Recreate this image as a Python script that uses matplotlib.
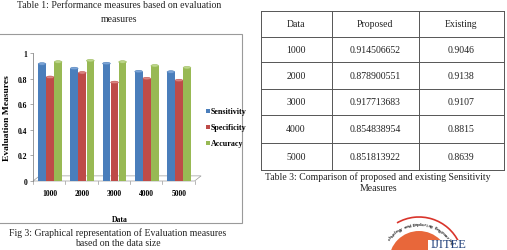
import matplotlib
matplotlib.use("Agg")
import matplotlib.pyplot as plt
from matplotlib.patches import Rectangle, Ellipse, Polygon, Circle, Arc
import numpy as np

# -------------------- Data --------------------
data_sizes = ["1000", "2000", "3000", "4000", "5000"]
sensitivity = [0.9145, 0.8789, 0.9177, 0.8548, 0.8518]
specificity = [0.81, 0.845, 0.77, 0.80, 0.785]
accuracy = [0.93, 0.94, 0.93, 0.90, 0.885]
series_names = ["Sensitivity", "Specificity", "Accuracy"]

table_header = ["Data", "Proposed", "Existing"]
table_proposed = ["0.914506652", "0.878900551", "0.917713683", "0.854838954", "0.851813922"]
table_existing = ["0.9046", "0.9138", "0.9107", "0.8815", "0.8639"]

colors = ["#4a7ebb", "#be4b48", "#98b954"]
tops = ["#7aa3d6", "#d98480", "#bcd68a"]

W, H = 507, 251
fig = plt.figure(figsize=(W / 100, H / 100), dpi=100)
fig.patch.set_facecolor("white")

serif = "Liberation Serif"

def fx(px):
    return px / W

def fy(py):
    return 1 - py / H

# -------------------- Left captions --------------------
fig.text(fx(119), fy(6), "Table 1: Performance measures based on evaluation",
         ha="center", va="center", fontsize=7, family=serif, color="#222222")
fig.text(fx(119), fy(19), "measures", ha="center", va="center",
         fontsize=7, family=serif, color="#222222")
fig.text(fx(118), fy(233), "Fig 3: Graphical representation of Evaluation measures",
         ha="center", va="center", fontsize=7, family=serif, color="#222222")
fig.text(fx(118), fy(244), "based on the data size", ha="center", va="center",
         fontsize=7, family=serif, color="#222222")

# chart frame
frame = Rectangle((fx(-2), fy(224)), fx(244), fy(35) - fy(224), transform=fig.transFigure,
                  fill=False, edgecolor="#9a9a9a", lw=0.8)
fig.add_artist(frame)

# -------------------- Bar chart --------------------
ax = fig.add_axes([fx(33), fy(182), fx(164), fy(54) - fy(182)])
x = np.arange(len(data_sizes))
bw = 0.25
for i, (vals, c, tc) in enumerate(zip([sensitivity, specificity, accuracy], colors, tops)):
    xs = x + (i - 1) * bw
    ax.bar(xs, vals, width=bw * 0.95, color=c, edgecolor="none", zorder=3,
           label=series_names[i])
    for xv, v in zip(xs, vals):
        ax.add_patch(Ellipse((xv, v), bw * 0.95, 0.02, facecolor=tc,
                             edgecolor=c, lw=0.4, zorder=4))

ax.set_xlim(-0.53, 4.56)
ax.set_ylim(0, 1)
ax.set_yticks([0, 0.2, 0.4, 0.6, 0.8, 1])
ax.set_yticklabels(["0", "0.2", "0.4", "0.6", "0.8", "1"])
ax.set_xticks(x)
ax.set_xticklabels(data_sizes)
for lab in ax.get_xticklabels() + ax.get_yticklabels():
    lab.set_fontfamily(serif)
    lab.set_fontweight("bold")
    lab.set_fontsize(5.5)
ax.tick_params(axis="x", length=0, pad=6)
ax.tick_params(axis="y", length=2, width=0.5, color="#888888", pad=2)
for s in ["top", "right", "bottom"]:
    ax.spines[s].set_visible(False)
ax.spines["left"].set_color("#888888")
ax.spines["left"].set_linewidth(0.6)
ax.set_facecolor("none")

# 3d-ish floor
floor = Polygon([(0, 0), (0.985, 0), (1.025, 0.04), (0.04, 0.04)], closed=True,
                transform=ax.transAxes, facecolor="white", edgecolor="#9a9a9a",
                lw=0.5, clip_on=False, zorder=1)
ax.add_patch(floor)
for k in range(6):
    xa = k / 5 * 0.985
    ax.plot([xa, xa], [0, -0.02], transform=ax.transAxes, color="#9a9a9a",
            lw=0.5, clip_on=False)

ax.set_ylabel("Evaluation Measures", fontsize=6.8, family=serif,
              fontweight="bold", labelpad=5)
fig.text(fx(120), fy(220), "Data", ha="center", va="center", fontsize=5.5,
         family=serif, fontweight="bold")

# legend
for i, (name, c) in enumerate(zip(series_names, colors)):
    yy = [112, 128, 144][i]
    fig.add_artist(Rectangle((fx(206), fy(yy + 2)), fx(4), fy(yy - 2) - fy(yy + 2),
                             transform=fig.transFigure, facecolor=c, edgecolor="none"))
    fig.text(fx(211), fy(yy), name, ha="left", va="center", fontsize=5.8,
             family=serif, fontweight="bold")

# -------------------- Table --------------------
row_y = [12, 37.5, 63, 89.5, 116, 144, 171]
col_x = [261, 332, 419, 504]
col_c = [296, 375, 461]
for yy in row_y:
    fig.add_artist(plt.Line2D([fx(col_x[0]), fx(col_x[-1])], [fy(yy), fy(yy)],
                              transform=fig.transFigure, color="#555555", lw=0.7))
for xx in col_x:
    fig.add_artist(plt.Line2D([fx(xx), fx(xx)], [fy(row_y[0]), fy(row_y[-1])],
                              transform=fig.transFigure, color="#555555", lw=0.7))

rows = [table_header] + [[d, p, e] for d, p, e in zip(data_sizes, table_proposed, table_existing)]
for r, row in enumerate(rows):
    yc = (row_y[r] + row_y[r + 1]) / 2
    for c, txt in enumerate(row):
        fig.text(fx(col_c[c]), fy(yc), txt, ha="center", va="center",
                 fontsize=7, family=serif, color="#222222")

fig.text(fx(378), fy(177), "Table 3: Comparison of proposed and existing Sensitivity",
         ha="center", va="center", fontsize=7, family=serif, color="#222222")
fig.text(fx(378), fy(189), "Measures", ha="center", va="center",
         fontsize=7, family=serif, color="#222222")

# -------------------- Logo (partial) --------------------
lax = fig.add_axes([0, 0, 1, 1], zorder=-1)
lax.set_xlim(0, W)
lax.set_ylim(H, 0)
lax.axis("off")
cx, cy = 419, 262
lax.add_patch(Circle((cx, cy), 30, facecolor="#e8673a", edgecolor="none"))
lax.add_patch(Arc((cx, cy), 88, 88, theta1=240, theta2=335, color="#d9342b", lw=1.2))
ring_text = "chnology and Exploring Engineering"
angs = np.linspace(218, 330, len(ring_text))
for ch, a in zip(ring_text, angs):
    t = np.deg2rad(a)
    lax.text(cx + 37 * np.cos(t), cy + 37 * np.sin(t), ch, fontsize=3.0,
             fontweight="bold", color="#333333", ha="center", va="center",
             rotation=-(a - 270), family="DejaVu Sans")
lax.add_patch(Rectangle((428, 241), 80, 12, facecolor="white", edgecolor="none"))
lax.text(431, 251, "IJITEE", fontsize=9, family=serif, color="#1f3f7a",
         ha="left", va="bottom")

fig.savefig("out.png", dpi=100, facecolor="white")
